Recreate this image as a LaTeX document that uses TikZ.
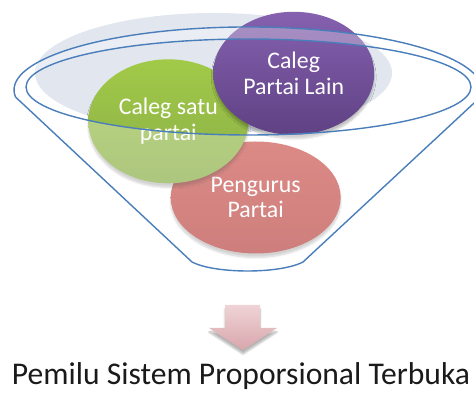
\documentclass[tikz,border=0pt]{standalone}
\usepackage{fontspec}
\setmainfont{Carlito}
\usetikzlibrary{shapes.geometric,shadows.blur}
\definecolor{funnelblue}{HTML}{4A7EBB}
\definecolor{bgell}{HTML}{E1E6EF}
\definecolor{pinktop}{HTML}{CD5852}
\definecolor{pinkbot}{HTML}{B94845}
\definecolor{greentop}{HTML}{A2CA48}
\definecolor{greenbot}{HTML}{8AAE48}
\definecolor{purptop}{HTML}{8561AF}
\definecolor{purpbot}{HTML}{5F4184}
\definecolor{arrtop}{HTML}{EFD3D6}
\definecolor{arrbot}{HTML}{D8A6AB}
\definecolor{txt}{HTML}{1A1A1A}
\begin{document}
\begin{tikzpicture}[x=1pt,y=1pt]
\useasboundingbox (0,0) rectangle (474,398);
\tikzset{
 bubble/.style={ellipse, inner sep=0pt, text=white, align=center,
   font=\fontsize{23.8}{25.5}\selectfont,
   blur shadow={shadow xshift=0pt, shadow yshift=-4pt, shadow blur steps=6, shadow opacity=25}},
 funnelline/.style={draw=funnelblue, line width=1.4pt},
}
\fill[bgell] (213.5,325) ellipse [x radius=178.5, y radius=60];
\node[bubble, minimum width=170pt, minimum height=112pt, top color=pinktop, bottom color=pinkbot] (pengurus) at (255.7,200.5) {Pengurus\\Partai};
\node[bubble, minimum width=160pt, minimum height=124pt, top color=greentop, bottom color=greenbot] (satu) at (168.3,276.7) {Caleg satu\\partai};
\node[bubble, minimum width=161pt, minimum height=123pt, top color=purptop, bottom color=purpbot] (lain) at (293.7,324.7) {Caleg\\Partai Lain};
% translucent funnel body
\fill[white, fill opacity=0.3, even odd rule]
  (15.5,301) arc[start angle=186.4, end angle=-6.4, x radius=234, y radius=63]
  -- (303,136) .. controls (280,124) and (215,124) .. (192,136) -- cycle
  (248.5,311) ellipse [x radius=222.5, y radius=48];
\draw[funnelline]
  (15.5,301) arc[start angle=186.4, end angle=-6.4, x radius=234, y radius=63]
  -- (303,136) .. controls (280,124) and (215,124) .. (192,136) -- cycle;
\draw[funnelline] (248.5,311) ellipse [x radius=222.5, y radius=48];
% arrow
\path[top color=arrtop, bottom color=arrbot,
  blur shadow={shadow xshift=0pt, shadow yshift=-4pt, shadow blur steps=6, shadow opacity=30}]
  (225,93) -- (260,93) -- (260,70) -- (277,70) -- (243,48) -- (209,70) -- (225,70) -- cycle;
\node[font=\fontsize{31.6}{36}\selectfont, text=txt, anchor=base, inner sep=0pt] (title) at (241,13) {Pemilu Sistem Proporsional Terbuka};
\end{tikzpicture}
\end{document}
